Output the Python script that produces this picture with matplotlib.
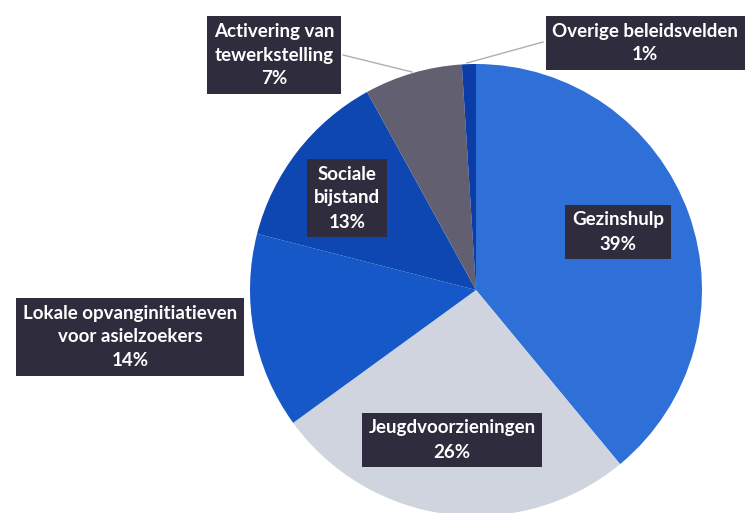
import matplotlib.pyplot as plt

labels = [
    "Gezinshulp",
    "Jeugdvoorzieningen",
    "Lokale opvanginitiatieven\nvoor asielzoekers",
    "Sociale\nbijstand",
    "Activering van\ntewerkstelling",
    "Overige beleidsvelden",
]
shares = [39, 26, 14, 13, 7, 1]
colors = ["#2f6fd8", "#cfd4de", "#1758c9", "#0f47b2", "#625f70", "#0c3ca6"]

# label box centres in pixel coordinates (y from top)
label_pos = [(618, 232), (452, 440), (130, 337), (347, 198), (274, 55), (645, 43)]

W, H = 752, 513
fig = plt.figure(figsize=(W / 100, H / 100), dpi=100)
ax = fig.add_axes([0, 0, 1, 1])

cx, cy, r = 476, H - 290, 226
ax.pie(
    shares,
    colors=colors,
    startangle=90,
    counterclock=False,
    center=(cx, cy),
    radius=r,
    frame=True,
)
ax.set_xlim(0, W)
ax.set_ylim(0, H)
ax.axis("off")

# leader lines for the small slices
ax.plot([343, 412], [H - 55, H - 72], color="#a9b0b8", lw=1)
ax.plot([543, 467], [H - 42, H - 63], color="#a9b0b8", lw=1)

for lab, s, (x, y) in zip(labels, shares, label_pos):
    ax.text(
        x, H - y, f"{lab}\n{s}%",
        ha="center", va="center", color="white",
        fontsize=13.5, fontweight="bold", family=["Lato", "DejaVu Sans"],
        linespacing=1.5,
        bbox=dict(boxstyle="square,pad=0.35", facecolor="#2f2d3d", edgecolor="none"),
    )

fig.savefig("out.png", dpi=100)
